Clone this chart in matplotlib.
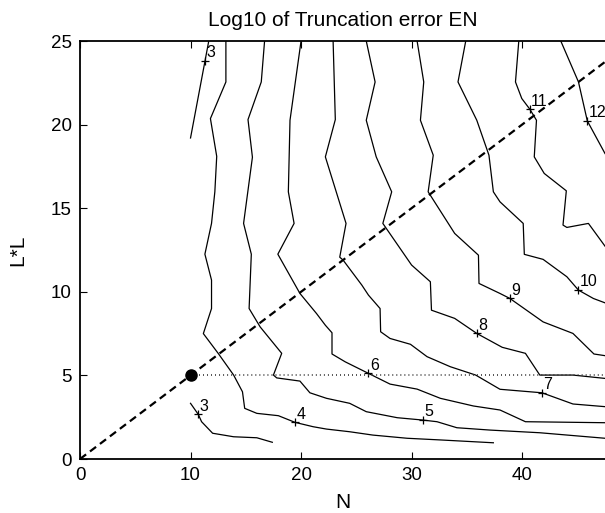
import matplotlib
matplotlib.use("Agg")
from matplotlib import pyplot as plt
from matplotlib import rcParams

rcParams.update({
  'font.family': 'sans-serif',
  'font.sans-serif': ['Liberation Sans', 'DejaVu Sans'],
  'lines.scale_dashes': False,
  'axes.linewidth': 1.3,
  'xtick.direction': 'in',
  'ytick.direction': 'in',
})

# contour lines of log10(EN), one polyline per level (N, L*L)
LEV3A_N = [11.65, 10.0]
LEV3A_L = [25.0, 19.2]

LEV3B_N = [10.0, 10.7, 11.0, 12.0, 13.9, 16.0, 17.4]
LEV3B_L = [3.33, 2.67, 2.23, 1.54, 1.33, 1.27, 1.0]

LEV4_N = [13.2, 13.2, 11.8, 12.37, 12.2, 11.9, 11.3, 11.9, 11.9, 11.16, 12.5, 13.9,
          14.7, 14.9, 16.0, 17.95, 19.46, 21.1, 22.3, 24.4, 26.5, 29.6, 32.6, 37.4]
LEV4_L = [25.0, 22.55, 20.36, 18.1, 15.98, 14.09, 12.25, 10.7, 9.0, 7.5, 6.32, 5.02,
          4.02, 3.03, 2.73, 2.59, 2.19, 1.93, 1.79, 1.63, 1.43, 1.24, 1.14, 0.97]

LEV5_N = [16.7, 16.4, 15.2, 15.6, 14.8, 15.5, 15.3, 16.3, 18.25, 17.5, 17.8, 19.9,
          20.8, 22.3, 24.4, 25.9, 28.7, 31.0, 32.3, 34.1, 37.1, 41.6, 47.5]
LEV5_L = [25.0, 22.55, 20.3, 18.05, 14.09, 12.25, 9.0, 7.9, 6.32, 5.02, 4.85, 4.66,
          3.96, 3.63, 3.33, 2.83, 2.47, 2.33, 2.23, 1.87, 1.73, 1.57, 1.24]

LEV6_N = [20.0, 19.0, 18.85, 19.37, 17.9, 19.9, 21.4, 22.2, 22.8, 22.8, 24.0, 26.1,
          28.05, 30.5, 32.6, 35.6, 38.0, 40.3, 47.5]
LEV6_L = [25.0, 20.26, 15.98, 14.09, 12.25, 9.9, 8.7, 8.0, 7.55, 6.28, 5.81, 5.12,
          4.48, 4.18, 3.63, 3.17, 2.93, 2.23, 2.17]

LEV7_N = [22.9, 23.1, 22.2, 24.07, 23.5, 23.8, 25.5, 26.1, 27.15, 27.2, 28.05, 29.9,
          31.4, 33.5, 35.8, 38.0, 41.8, 44.6, 47.5]
LEV7_L = [25.0, 20.3, 18.07, 14.09, 12.07, 11.9, 10.4, 9.8, 9.0, 7.61, 7.21, 6.86,
          6.12, 5.52, 5.02, 4.17, 3.96, 3.29, 3.13]

LEV8_N = [25.9, 26.7, 25.9, 26.8, 28.2, 27.4, 30.0, 31.7, 31.8, 33.9, 35.9, 38.2,
          40.3, 41.6, 44.6, 47.5]
LEV8_L = [25.0, 22.55, 20.26, 18.07, 15.98, 14.09, 11.6, 10.6, 8.9, 8.41, 7.51, 6.68,
          6.32, 5.02, 5.02, 4.82]

LEV9_N = [30.5, 31.1, 30.8, 31.96, 31.5, 33.9, 36.05, 36.1, 38.0, 38.9, 41.9, 44.6,
          46.5, 47.5]
LEV9_L = [25.0, 22.55, 20.26, 18.17, 15.98, 13.49, 12.19, 10.5, 9.9, 9.6, 8.2, 7.51,
          6.28, 6.18]

LEV10_N = [34.9, 34.2, 35.9, 37.0, 37.4, 38.0, 40.1, 40.2, 41.9, 44.05, 45.1, 46.45, 47.5]
LEV10_L = [25.0, 22.55, 20.26, 18.17, 15.98, 15.38, 14.09, 12.24, 11.94, 10.9, 10.1, 9.6, 9.34]

LEV11_N = [39.7, 39.4, 39.97, 40.7, 41.3, 41.1, 42.0, 44.0, 43.7, 44.05, 46.0, 47.5]
LEV11_L = [25.0, 22.55, 21.56, 20.92, 20.26, 18.07, 17.08, 16.04, 13.99, 13.85, 14.09, 12.73]

LEV12_N = [43.5, 45.1, 45.9, 47.5]
LEV12_L = [25.0, 22.55, 20.22, 18.27]

# in-line contour labels
LABEL_TEXT = ['3', '3', '4', '5', '6', '7', '8', '9', '10', '11', '12']
LABEL_N = [11.3, 10.7, 19.46, 31.0, 26.1, 41.8, 35.9, 38.9, 45.1, 40.7, 45.9]
LABEL_L = [23.8, 2.67, 2.19, 2.33, 5.12, 3.96, 7.51, 9.6, 10.1, 20.92, 20.22]

# optimal-choice line L*L = N/2 and the chosen point
DIAG_N = [0, 50]
DIAG_L = [0, 25]
POINT_N = 10
POINT_L = 5
N_MAX = 47.5

contours = [
  (LEV3A_N, LEV3A_L), (LEV3B_N, LEV3B_L), (LEV4_N, LEV4_L), (LEV5_N, LEV5_L),
  (LEV6_N, LEV6_L), (LEV7_N, LEV7_L), (LEV8_N, LEV8_L), (LEV9_N, LEV9_L),
  (LEV10_N, LEV10_L), (LEV11_N, LEV11_L), (LEV12_N, LEV12_L),
]

fig = plt.figure(figsize=(6.05, 5.13), dpi=100)
ax = fig.add_axes([80 / 605, 54 / 513, 525 / 605, 418 / 513])

for xs, ys in contours:
  ax.plot(xs, ys, color='black', lw=0.9)

ax.plot(LABEL_N, LABEL_L, ls='none', marker='+', ms=6, mew=0.9, color='black')
for t, x, y in zip(LABEL_TEXT, LABEL_N, LABEL_L):
  ax.annotate(t, (x, y), xytext=(1, 0.5), textcoords='offset points',
              ha='left', va='bottom', fontsize=11.5)

ax.plot(DIAG_N, DIAG_L, color='black', lw=1.6, dashes=(5.5, 3.5))
ax.plot([POINT_N, N_MAX], [POINT_L, POINT_L], color='0.2', lw=1.4, dashes=(0.6, 2.3))
ax.plot([POINT_N], [POINT_L], 'o', color='black', ms=8)

ax.set_xlim(0, N_MAX)
ax.set_ylim(0, 25)
ax.set_xticks([0, 10, 20, 30, 40])
ax.set_yticks([0, 5, 10, 15, 20, 25])
ax.tick_params(labelsize=13.5, length=5, width=0.8, top=True, right=False)
ax.tick_params(axis='x', pad=6)
ax.tick_params(axis='y', pad=6)
ax.spines['right'].set_visible(False)

ax.set_title('Log10 of Truncation error EN', fontsize=15, pad=11)
ax.set_xlabel('N', fontsize=15, labelpad=6)
ax.set_ylabel('L*L', fontsize=15, labelpad=17)

plt.savefig('out.png', dpi=100)
